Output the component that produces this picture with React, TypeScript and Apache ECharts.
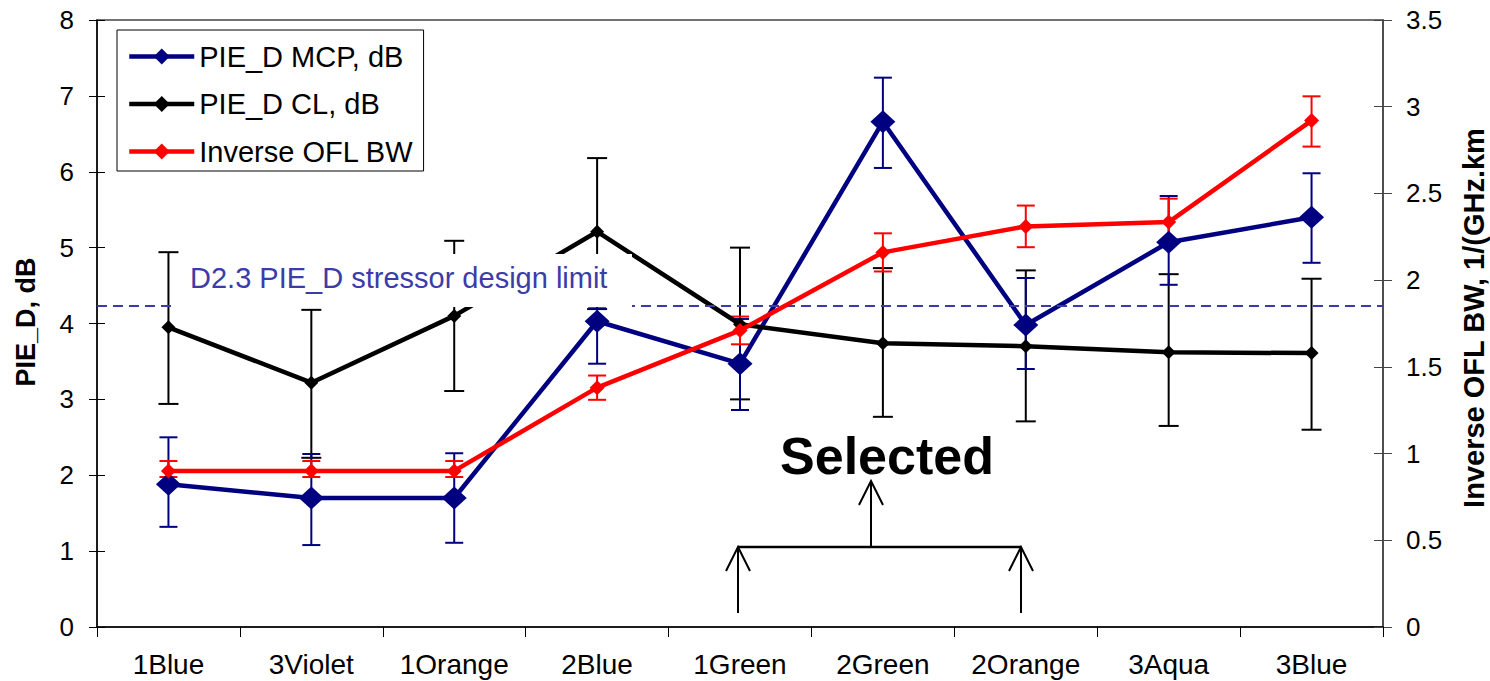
import React, { useEffect, useRef } from "react";
import * as echarts from "echarts";

const categories = ["1Blue", "3Violet", "1Orange", "2Blue", "1Green", "2Green", "2Orange", "3Aqua", "3Blue"];

const mcpValues = [1.88, 1.70, 1.70, 4.03, 3.47, 6.66, 3.98, 5.07, 5.40];
const mcpLow = [1.32, 1.08, 1.11, 3.47, 2.86, 6.05, 3.40, 4.51, 4.80];
const mcpHigh = [2.50, 2.28, 2.29, 4.20, 4.06, 7.24, 4.60, 5.68, 5.98];

const clValues = [3.95, 3.22, 4.10, 5.21, 3.99, 3.74, 3.70, 3.62, 3.61];
const clLow = [2.94, 2.23, 3.11, 4.19, 3.00, 2.77, 2.71, 2.65, 2.60];
const clHigh = [4.94, 4.18, 5.09, 6.18, 5.00, 4.73, 4.70, 4.65, 4.59];

const oflValues = [0.90, 0.90, 0.90, 1.38, 1.71, 2.16, 2.31, 2.335, 2.92];
const oflLow = [0.865, 0.865, 0.865, 1.31, 1.63, 2.05, 2.19, 2.23, 2.77];
const oflHigh = [0.957, 0.957, 0.957, 1.45, 1.79, 2.27, 2.43, 2.47, 3.06];

const designLimit = 4.23;

const leftTicks = { min: 0, max: 8, interval: 1 };
const rightTicks = { min: 0, max: 3.5, interval: 0.5 };

const FONT = "Arial, 'Liberation Sans', sans-serif";
const NAVY = "#000080";
const LIMIT_COLOR = "#3c3ca8";

function errorBars(color: string, width: number, capHalf: number) {
  return (params: any, api: any) => {
    const i = api.value(0);
    const lo = api.coord([i, api.value(1)]);
    const hi = api.coord([i, api.value(2)]);
    const style = { stroke: color, lineWidth: width, fill: null };
    return {
      type: "group",
      children: [
        { type: "line", shape: { x1: lo[0], y1: lo[1], x2: hi[0], y2: hi[1] }, style },
        { type: "line", shape: { x1: lo[0] - capHalf, y1: lo[1], x2: lo[0] + capHalf, y2: lo[1] }, style },
        { type: "line", shape: { x1: hi[0] - capHalf, y1: hi[1], x2: hi[0] + capHalf, y2: hi[1] }, style },
      ],
    };
  };
}

function errData(low: number[], high: number[]) {
  return categories.map((_, i) => [i, low[i], high[i]]);
}

function arrowHead(x: number, y: number) {
  return {
    type: "polyline",
    shape: { points: [[x - 12, y + 24], [x, y], [x + 12, y + 24]] },
    style: { stroke: "#000", lineWidth: 2, fill: null },
    z: 100,
  };
}

function vline(x1: number, y1: number, x2: number, y2: number, w = 2) {
  return {
    type: "line",
    shape: { x1, y1, x2, y2 },
    style: { stroke: "#000", lineWidth: w },
    z: 100,
  };
}

export default function App() {
  const ref = useRef<HTMLDivElement>(null);
  useEffect(() => {
    const chart = echarts.init(ref.current as HTMLDivElement, null, { renderer: "svg" });
    const option: any = {
      animation: false,
      backgroundColor: "#fff",
      textStyle: { fontFamily: FONT },
      grid: {
        left: 97,
        right: 107,
        top: 20,
        bottom: 54,
        show: true,
        borderColor: "#444",
        borderWidth: 1.5,
        backgroundColor: "transparent",
      },
      legend: {
        data: ["PIE_D MCP, dB", "PIE_D CL, dB", "Inverse OFL BW"],
        orient: "vertical",
        left: 117,
        top: 30,
        padding: [12, 10, 5, 10],
        itemGap: 18.5,
        itemWidth: 65,
        itemHeight: 20,
        backgroundColor: "#fff",
        borderColor: "#000",
        borderWidth: 1,
        lineStyle: { width: 4.5 },
        textStyle: { fontSize: 29, color: "#000", fontFamily: FONT, lineHeight: 28 },
      },
      xAxis: {
        type: "category",
        data: categories,
        boundaryGap: true,
        axisLine: { lineStyle: { color: "#000", width: 1.5 } },
        axisTick: { show: true, interval: 0, length: 10, lineStyle: { color: "#000", width: 1 } },
        axisLabel: { interval: 0, fontSize: 28, color: "#000", margin: 23, fontFamily: FONT },
        splitLine: { show: false },
      },
      yAxis: [
        {
          type: "value",
          position: "left",
          ...leftTicks,
          axisLine: { show: true, lineStyle: { color: "#000", width: 1.5 } },
          axisTick: { show: true, length: 8, lineStyle: { color: "#000" } },
          axisLabel: { fontSize: 26, color: "#000", margin: 23, fontFamily: FONT },
          splitLine: { show: false },
        },
        {
          type: "value",
          position: "right",
          ...rightTicks,
          axisLine: { show: true, lineStyle: { color: "#444", width: 1.5 } },
          axisTick: { show: true, length: 9, lineStyle: { color: "#444" } },
          axisLabel: { fontSize: 26, color: "#000", margin: 23, fontFamily: FONT },
          splitLine: { show: false },
        },
        {
          type: "value",
          position: "left",
          ...leftTicks,
          axisLine: { show: false },
          axisTick: { show: true, inside: true, length: 8, lineStyle: { color: "#000" } },
          axisLabel: { show: false },
          splitLine: { show: false },
        },
        {
          type: "value",
          position: "right",
          ...rightTicks,
          axisLine: { show: false },
          axisTick: { show: true, inside: true, length: 9, lineStyle: { color: "#444" } },
          axisLabel: { show: false },
          splitLine: { show: false },
        },
      ],
      series: [
        {
          name: "CL err",
          type: "custom",
          yAxisIndex: 0,
          renderItem: errorBars("#000", 2, 10),
          encode: { x: 0, y: [1, 2] },
          data: errData(clLow, clHigh),
          z: 1,
          silent: true,
        },
        {
          name: "MCP err",
          type: "custom",
          yAxisIndex: 0,
          renderItem: errorBars(NAVY, 2, 9),
          encode: { x: 0, y: [1, 2] },
          data: errData(mcpLow, mcpHigh),
          z: 1,
          silent: true,
        },
        {
          name: "OFL err",
          type: "custom",
          yAxisIndex: 1,
          renderItem: errorBars("#ff0000", 2, 9),
          encode: { x: 0, y: [1, 2] },
          data: errData(oflLow, oflHigh),
          z: 1,
          silent: true,
        },
        {
          name: "PIE_D MCP, dB",
          type: "line",
          yAxisIndex: 0,
          data: mcpValues,
          symbol: "diamond",
          symbolSize: [25, 23],
          lineStyle: { color: NAVY, width: 4.5 },
          itemStyle: { color: NAVY },
          z: 3,
          markLine: {
            silent: true,
            symbol: "none",
            label: { show: false },
            lineStyle: { color: LIMIT_COLOR, type: [10, 6], width: 2 },
            data: [{ yAxis: designLimit }],
          },
        },
        {
          name: "PIE_D CL, dB",
          type: "line",
          yAxisIndex: 0,
          data: clValues,
          symbol: "diamond",
          symbolSize: 14,
          lineStyle: { color: "#000", width: 4.5 },
          itemStyle: { color: "#000" },
          z: 4,
        },
        {
          name: "Inverse OFL BW",
          type: "line",
          yAxisIndex: 1,
          data: oflValues,
          symbol: "diamond",
          symbolSize: 15,
          lineStyle: { color: "#ff0000", width: 4.5 },
          itemStyle: { color: "#ff0000" },
          z: 5,
        },
      ],
      graphic: [
        {
          type: "rect",
          shape: { x: 171, y: 254, width: 461, height: 53 },
          style: { fill: "#fff" },
          z: 90,
        },
        {
          type: "text",
          x: 190,
          y: 292,
          style: {
            text: "D2.3 PIE_D stressor design limit",
            fill: LIMIT_COLOR,
            font: `29px ${FONT}`,
            textAlign: "left",
            textVerticalAlign: "bottom",
          },
          z: 95,
        },
        {
          type: "text",
          x: 26,
          y: 322,
          rotation: Math.PI / 2,
          style: {
            text: "PIE_D, dB",
            fill: "#000",
            font: `bold 27px ${FONT}`,
            textAlign: "center",
            textVerticalAlign: "middle",
          },
          z: 100,
        },
        {
          type: "text",
          x: 1474,
          y: 318,
          rotation: Math.PI / 2,
          style: {
            text: "Inverse OFL BW, 1/(GHz.km",
            fill: "#000",
            font: `bold 29px ${FONT}`,
            textAlign: "center",
            textVerticalAlign: "middle",
          },
          z: 100,
        },
        {
          type: "text",
          x: 887,
          y: 456,
          style: {
            text: "Selected",
            fill: "#000",
            font: `bold 52px ${FONT}`,
            textAlign: "center",
            textVerticalAlign: "middle",
          },
          z: 100,
        },
        vline(738, 613, 738, 547),
        vline(1021, 613, 1021, 547),
        vline(738, 547, 1021, 547, 2.5),
        vline(871, 547, 871, 481),
        arrowHead(738, 547),
        arrowHead(1021, 547),
        arrowHead(871, 481),
      ],
    };
    chart.setOption(option);
    return () => chart.dispose();
  }, []);
  return (
    <div
      ref={ref}
      style={{ position: "absolute", left: 0, top: 0, width: 1490, height: 681, background: "#fff" }}
    />
  );
}
